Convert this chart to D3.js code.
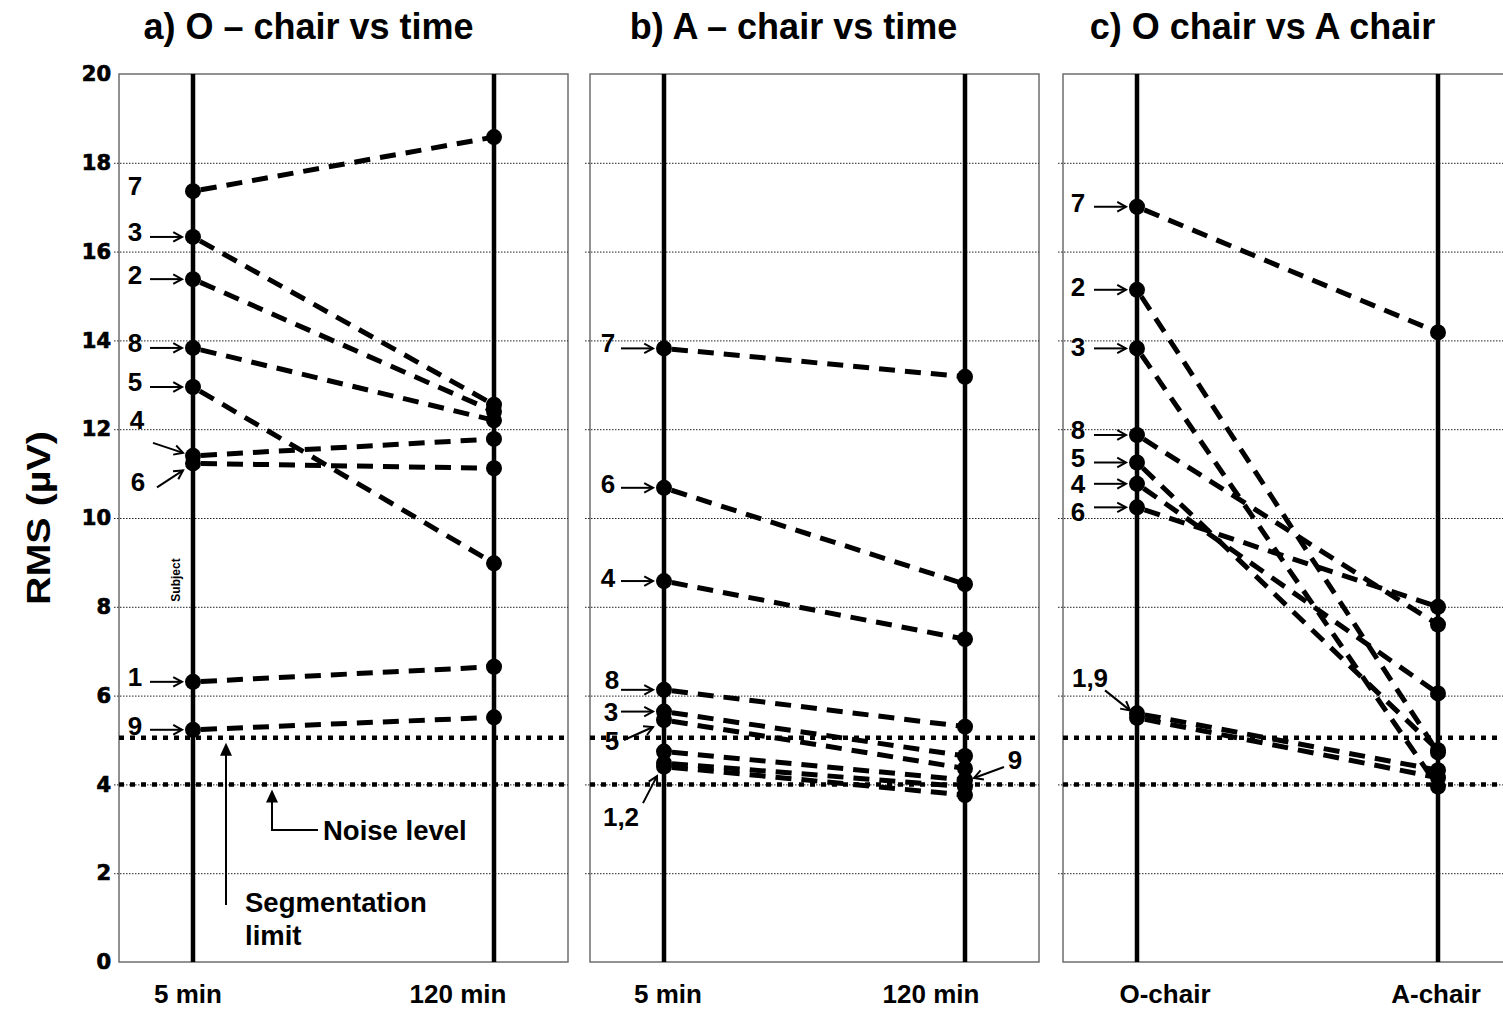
<!DOCTYPE html>
<html>
<head>
  <meta charset="utf-8">
  <title>RMS per subject</title>
  <style>
    body { margin: 0; background: #fff; }
    text { font-family: "Liberation Sans", Arial, sans-serif; font-weight: bold; fill: #000; }
    .ytick text { font-family: "DejaVu Sans", sans-serif; font-size: 21px; stroke: #000; stroke-width: 0.7px; }
  </style>
</head>
<body>
<script src="https://cdn.jsdelivr.net/npm/d3@7"></script>
<script>
  // subjects 1..9, values in µV
  var subjects = [1, 2, 3, 4, 5, 6, 7, 8, 9];
  var panelTitles = ["a) O \u2013 chair vs time", "b) A \u2013 chair vs time", "c) O chair vs A chair"];
  var panelCats = [["5 min", "120 min"], ["5 min", "120 min"], ["O-chair", "A-chair"]];

  var aFirst  = [6.31, 15.38, 16.33, 11.40, 12.95, 11.23, 17.36, 13.83, 5.23];
  var aSecond = [6.65, 12.40, 12.55, 11.78, 8.98, 11.12, 18.58, 12.20, 5.51];
  var bFirst  = [4.48, 4.40, 5.64, 8.58, 5.45, 10.68, 13.82, 6.13, 4.74];
  var bSecond = [3.95, 3.76, 4.64, 7.27, 4.36, 8.51, 13.18, 5.30, 4.10];
  var cFirst  = [5.60, 15.14, 13.82, 10.77, 11.25, 10.24, 17.01, 11.87, 5.50];
  var cSecond = [4.32, 4.72, 3.95, 6.05, 4.77, 8.00, 14.18, 7.60, 4.15];

  var segmentationLimit = 5.05;
  var noiseLevel = 4.0;
  var yTicks = [0, 2, 4, 6, 8, 10, 12, 14, 16, 18, 20];

  // subject labels: which point they point at, offsets relative to it
  var labelsA = [
    { t: "7", s: 7, c: 0, dx: -58, dy: -6 },
    { t: "3", s: 3, c: 0, dx: -58, dy: -5, h: true },
    { t: "2", s: 2, c: 0, dx: -58, dy: -4, h: true },
    { t: "8", s: 8, c: 0, dx: -58, dy: -5, h: true },
    { t: "5", s: 5, c: 0, dx: -58, dy: -5, h: true },
    { t: "4", s: 4, c: 0, dx: -56, dy: -36, a: [-40, -13, -10, -3] },
    { t: "6", s: 6, c: 0, dx: -55, dy: 18, a: [-36, 24, -10, 7] },
    { t: "1", s: 1, c: 0, dx: -58, dy: -5, h: true },
    { t: "9", s: 9, c: 0, dx: -58, dy: -4, h: true }
  ];
  var labelsB = [
    { t: "7", s: 7, c: 0, dx: -56, dy: -6, h: true },
    { t: "6", s: 6, c: 0, dx: -56, dy: -4, h: true },
    { t: "4", s: 4, c: 0, dx: -56, dy: -3, h: true },
    { t: "8", s: 8, c: 0, dx: -52, dy: -10, h: true },
    { t: "3", s: 3, c: 0, dx: -53, dy: 0, h: true },
    { t: "5", s: 5, c: 0, dx: -52, dy: 21, a: [-40, 20, -11, 7] },
    { t: "1,2", s: 1, c: 0, dx: -43, dy: 54, a: [-21, 40, -7, 13] },
    { t: "9", s: 9, c: 1, dx: 50, dy: -20, a: [39, -13, 9, -2] }
  ];
  var labelsC = [
    { t: "7", s: 7, c: 0, dx: -59, dy: -4, h: true },
    { t: "2", s: 2, c: 0, dx: -59, dy: -3, h: true },
    { t: "3", s: 3, c: 0, dx: -59, dy: -2, h: true },
    { t: "8", s: 8, c: 0, dx: -59, dy: -5, h: true },
    { t: "5", s: 5, c: 0, dx: -59, dy: -5, h: true },
    { t: "4", s: 4, c: 0, dx: -59, dy: 0, h: true },
    { t: "6", s: 6, c: 0, dx: -59, dy: 4, h: true },
    { t: "1,9", s: 1, c: 0, dx: -47, dy: -36, a: [-32, -23, -7, -3] }
  ];

  var panels = [
    { first: aFirst, second: aSecond, labels: labelsA, left: 119, catShift: [-5, -36], titleShift: -35 },
    { first: bFirst, second: bSecond, labels: labelsB, left: 590, catShift: [4, -34], titleShift: -21 },
    { first: cFirst, second: cSecond, labels: labelsC, left: 1063, catShift: [28, -2], titleShift: -25 }
  ];

  var W = 1503, H = 1010;
  var plotTop = 74, plotBottom = 962, panelW = 449;

  var svg = d3.select("body").append("svg")
    .attr("width", W)
    .attr("height", H);

  svg.append("rect").attr("width", W).attr("height", H).attr("fill", "#fff");

  var y = d3.scaleLinear().domain([0, 20]).range([plotBottom, plotTop]);

  // y axis labels on the left of panel a
  var yAxis = d3.axisLeft(y).tickValues(yTicks).tickSize(0).tickPadding(8).tickFormat(d3.format("d"));
  svg.append("g")
    .attr("class", "ytick")
    .attr("transform", "translate(119,0)")
    .call(yAxis)
    .call(function(g) { g.select(".domain").remove(); });

  svg.append("text")
    .attr("transform", "translate(50," + ((plotTop + plotBottom) / 2) + ") rotate(-90)")
    .attr("text-anchor", "middle")
    .attr("font-size", 33)
    .attr("textLength", 174)
    .attr("lengthAdjust", "spacingAndGlyphs")
    .text("RMS (\u00b5V)");

  function arrowHead(g, x1, y1, x2, y2, len) {
    var ang = Math.atan2(y2 - y1, x2 - x1);
    var a1 = ang + Math.PI - 0.5, a2 = ang + Math.PI + 0.5;
    g.append("path")
      .attr("d", "M" + (x2 + len * Math.cos(a1)) + "," + (y2 + len * Math.sin(a1)) +
        " L" + x2 + "," + y2 + " L" + (x2 + len * Math.cos(a2)) + "," + (y2 + len * Math.sin(a2)))
      .attr("fill", "none")
      .attr("stroke", "#000")
      .attr("stroke-width", 2);
  }

  panels.forEach(function(p, pi) {
    var g = svg.append("g").attr("transform", "translate(" + p.left + ",0)");
    var x = d3.scalePoint().domain(panelCats[pi]).range([74, 375]);

    // panel frame
    g.append("rect")
      .attr("x", 0).attr("y", plotTop)
      .attr("width", panelW).attr("height", plotBottom - plotTop)
      .attr("fill", "none")
      .attr("stroke", "#6e6e6e")
      .attr("stroke-width", 1.5);

    // grid lines
    g.append("g")
      .call(d3.axisLeft(y).tickValues(yTicks.slice(1, -1)).tickSize(0).tickFormat(""))
      .call(function(s) {
        s.select(".domain").remove();
        s.selectAll(".tick line")
          .attr("x1", -5).attr("x2", panelW)
          .attr("stroke", "#222")
          .attr("stroke-width", 1)
          .attr("stroke-dasharray", "1.5,1.5");
      });

    // thick dotted reference lines
    [segmentationLimit, noiseLevel].forEach(function(v) {
      g.append("line")
        .attr("x1", 0).attr("x2", panelW)
        .attr("y1", y(v)).attr("y2", y(v))
        .attr("stroke", "#000")
        .attr("stroke-width", 4.5)
        .attr("stroke-dasharray", "5,6");
    });

    // category verticals
    panelCats[pi].forEach(function(c) {
      g.append("line")
        .attr("x1", x(c)).attr("x2", x(c))
        .attr("y1", plotTop).attr("y2", plotBottom)
        .attr("stroke", "#000")
        .attr("stroke-width", 4.5);
    });

    // category labels
    panelCats[pi].forEach(function(c, ci) {
      g.append("text")
        .attr("x", x(c) + p.catShift[ci])
        .attr("y", 1003)
        .attr("text-anchor", "middle")
        .attr("font-size", 26)
        .text(c);
    });

    // subject lines
    var rows = subjects.map(function(s, i) {
      return { s: s, v: [p.first[i], p.second[i]] };
    });
    g.selectAll(".subj")
      .data(rows)
      .enter()
      .append("line")
      .attr("class", "subj")
      .attr("x1", x(panelCats[pi][0]))
      .attr("x2", x(panelCats[pi][1]))
      .attr("y1", function(d) { return y(d.v[0]); })
      .attr("y2", function(d) { return y(d.v[1]); })
      .attr("stroke", "#000")
      .attr("stroke-width", 5)
      .attr("stroke-dasharray", "16,10")
      .attr("stroke-dashoffset", -8);

    // points
    rows.forEach(function(d) {
      d.v.forEach(function(v, ci) {
        g.append("circle")
          .attr("cx", x(panelCats[pi][ci]))
          .attr("cy", y(v))
          .attr("r", 8)
          .attr("fill", "#000");
      });
    });

    // subject labels with arrows
    p.labels.forEach(function(l) {
      var vals = l.c === 0 ? p.first : p.second;
      var px = x(panelCats[pi][l.c]);
      var py = y(vals[l.s - 1]);
      g.append("text")
        .attr("x", px + l.dx)
        .attr("y", py + l.dy)
        .attr("dy", "0.36em")
        .attr("text-anchor", "middle")
        .attr("font-size", 26)
        .text(l.t);
      var seg = null;
      if (l.h) seg = [-43, 0, -11, 0];
      if (l.a) seg = l.a;
      if (seg) {
        g.append("line")
          .attr("x1", px + seg[0]).attr("y1", py + seg[1])
          .attr("x2", px + seg[2]).attr("y2", py + seg[3])
          .attr("stroke", "#000")
          .attr("stroke-width", 2);
        arrowHead(g, px + seg[0], py + seg[1], px + seg[2], py + seg[3], 10);
      }
    });

    // panel title
    svg.append("text")
      .attr("x", p.left + panelW / 2 + p.titleShift)
      .attr("y", 39)
      .attr("text-anchor", "middle")
      .attr("font-size", 36)
      .text(panelTitles[pi]);
  });

  // annotations on panel a
  var ann = svg.append("g");
  ann.append("text")
    .attr("x", 176).attr("y", 580)
    .attr("transform", "rotate(-90,176,580)")
    .attr("text-anchor", "middle")
    .attr("dy", "0.36em")
    .attr("font-size", 12)
    .text("Subject");

  // noise level arrow
  var nTip = y(noiseLevel) + 5;
  ann.append("path")
    .attr("d", "M318,830 L272,830 L272," + (nTip + 10))
    .attr("fill", "none").attr("stroke", "#000").attr("stroke-width", 2);
  ann.append("path")
    .attr("d", "M272," + nTip + " L266," + (nTip + 13) + " L278," + (nTip + 13) + " Z")
    .attr("fill", "#000");
  ann.append("text")
    .attr("x", 323).attr("y", 840)
    .attr("font-size", 27.5)
    .text("Noise level");

  // segmentation limit arrow
  var sTip = y(segmentationLimit) + 5;
  ann.append("line")
    .attr("x1", 226).attr("x2", 226)
    .attr("y1", 905).attr("y2", sTip + 10)
    .attr("stroke", "#000").attr("stroke-width", 2);
  ann.append("path")
    .attr("d", "M226," + sTip + " L220," + (sTip + 13) + " L232," + (sTip + 13) + " Z")
    .attr("fill", "#000");
  ann.append("text")
    .attr("x", 245).attr("y", 912)
    .attr("font-size", 27.5)
    .text("Segmentation");
  ann.append("text")
    .attr("x", 245).attr("y", 945)
    .attr("font-size", 27.5)
    .text("limit");
</script>
</body>
</html>
